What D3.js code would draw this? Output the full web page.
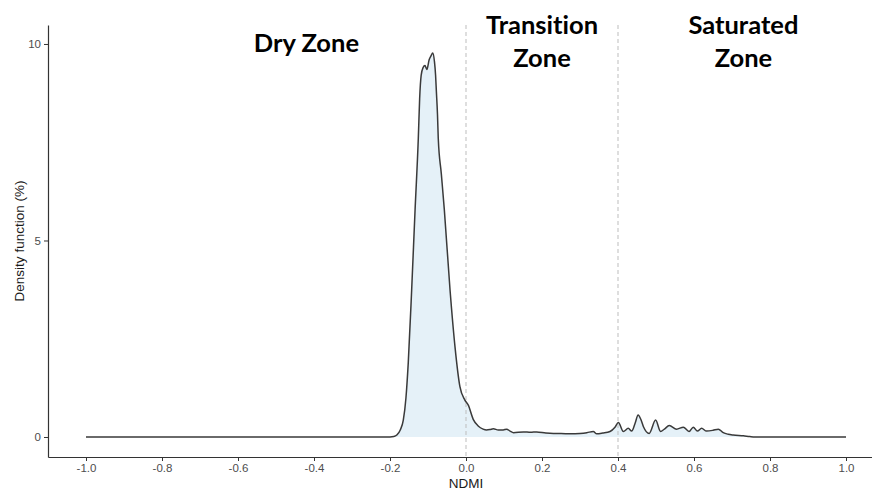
<!DOCTYPE html>
<html>
<head>
<meta charset="utf-8">
<script src="https://cdn.jsdelivr.net/npm/d3@7"></script>
<style>
  body { margin: 0; background: #fff; }
  .tick text { font-family: "Liberation Sans", Arial, sans-serif; font-size: 11.5px; fill: #4d4d4d; }
  .zone { font-family: Lato, sans-serif; font-weight: bold; font-size: 25.5px; fill: #000; font-variant-ligatures: none; }
  .aTitle { font-family: "Liberation Sans", Arial, sans-serif; font-size: 13.5px; fill: #1a1a1a; }
</style>
</head>
<body>
<div id="chart"></div>
<script>
// NDMI values and density (%)
var ndmi = [-1.0, -0.6, -0.2, -0.19, -0.182, -0.173, -0.165, -0.158, -0.152, -0.143, -0.134, -0.1255,
    -0.122, -0.118, -0.113, -0.108, -0.103, -0.097, -0.092, -0.0876, -0.083, -0.08, -0.078, -0.075, -0.073,
    -0.065, -0.057, -0.042, -0.029, -0.016, -0.003, 0.006, 0.019, 0.032, 0.045, 0.054, 0.063, 0.072, 0.085,
    0.098, 0.107, 0.116, 0.125, 0.151, 0.17, 0.186, 0.21, 0.23, 0.25, 0.274, 0.3, 0.318, 0.335, 0.344, 0.36,
    0.379, 0.392, 0.401, 0.414, 0.427, 0.436, 0.445, 0.453, 0.46, 0.467, 0.482, 0.499, 0.512, 0.522, 0.535,
    0.554, 0.572, 0.587, 0.598, 0.609, 0.62, 0.633, 0.65, 0.664, 0.677, 0.69, 0.703, 0.73, 0.747, 0.76, 0.9, 1.0];
var density = [0, 0, 0, 0.01, 0.05, 0.18, 0.43, 1.0, 1.88, 3.74, 5.78, 7.6,
    8.6, 9.2, 9.4, 9.45, 9.35, 9.6, 9.7, 9.77, 9.55, 9.2, 8.8, 8.2, 7.6,
    6.7, 5.78, 3.74, 2.3, 1.28, 0.94, 0.81, 0.45, 0.28, 0.2, 0.18, 0.19, 0.21, 0.18,
    0.18, 0.2, 0.15, 0.11, 0.13, 0.12, 0.13, 0.1, 0.09, 0.09, 0.08, 0.09, 0.11, 0.14, 0.08, 0.1,
    0.14, 0.25, 0.37, 0.14, 0.22, 0.15, 0.35, 0.56, 0.45, 0.26, 0.09, 0.43, 0.14, 0.2, 0.29,
    0.2, 0.25, 0.14, 0.25, 0.15, 0.22, 0.15, 0.17, 0.2, 0.11, 0.07, 0.05, 0.03, 0.01, 0, 0, 0];

var xTicks = [-1.0, -0.8, -0.6, -0.4, -0.2, 0.0, 0.2, 0.4, 0.6, 0.8, 1.0];
var yTicks = [0, 5, 10];
var cutoffs = [0.0, 0.4];
var zoneLabels = [
    {lines: ["Dry Zone"], x: -0.42},
    {lines: ["Transition", "Zone"], x: 0.2},
    {lines: ["Saturated", "Zone"], x: 0.73}
];

var svgWidth = 872;
var svgHeight = 490;

var svg = d3.select('#chart')
    .append('svg')
    .attr('width', svgWidth)
    .attr('height', svgHeight);

var xScale = d3.scaleLinear()
    .domain([-1.1, 1.1])
    .range([48, 884]);

var yScale = d3.scaleLinear()
    .domain([-0.509, 10.483])
    .range([457, 25]);

var points = ndmi.map((v, i) => ({x: v, y: density[i]}));

// density fill + outline
var area = d3.area()
    .x(d => xScale(d.x))
    .y0(yScale(0))
    .y1(d => yScale(d.y))
    .curve(d3.curveMonotoneX);

var line = d3.line()
    .x(d => xScale(d.x))
    .y(d => yScale(d.y))
    .curve(d3.curveMonotoneX);

svg.append('path')
    .datum(points)
    .attr('d', area)
    .attr('fill', '#e5f1f8');

// cutoff lines
svg.selectAll('line.cut')
    .data(cutoffs)
    .enter()
    .append('line')
    .attr('class', 'cut')
    .attr('x1', d => xScale(d))
    .attr('x2', d => xScale(d))
    .attr('y1', yScale.range()[1])
    .attr('y2', yScale.range()[0])
    .attr('stroke', '#bdbdbd')
    .attr('stroke-width', 1)
    .attr('stroke-dasharray', '4,3');

svg.append('path')
    .datum(points)
    .attr('d', line)
    .attr('fill', 'none')
    .attr('stroke', '#3a3a3a')
    .attr('stroke-width', 1.5);

// axes
var bottomAxis = d3.axisBottom(xScale)
    .tickValues(xTicks)
    .tickFormat(d => d.toFixed(1))
    .tickSizeInner(4)
    .tickSizeOuter(0)
    .tickPadding(3);

var leftAxis = d3.axisLeft(yScale)
    .tickValues(yTicks)
    .tickSizeInner(4)
    .tickSizeOuter(0)
    .tickPadding(3);

var gx = svg.append('g')
    .attr('transform', `translate(0, ${yScale.range()[0]})`)
    .call(bottomAxis);

var gy = svg.append('g')
    .attr('transform', `translate(${xScale.range()[0]}, 0)`)
    .call(leftAxis);

[gx, gy].forEach(function(g){
    g.select('.domain').attr('stroke', '#333').attr('stroke-width', 1.2);
    g.selectAll('.tick line').attr('stroke', '#333');
});

svg.append('text')
    .attr('class', 'aTitle')
    .attr('transform', 'rotate(-90)')
    .attr('x', -241)
    .attr('y', 24)
    .attr('text-anchor', 'middle')
    .text('Density function (%)');

svg.append('text')
    .attr('class', 'aTitle')
    .attr('x', xScale(0))
    .attr('y', 488)
    .attr('text-anchor', 'middle')
    .text('NDMI');

// zone labels
zoneLabels.forEach(function(z){
    var t = svg.append('text')
        .attr('class', 'zone')
        .attr('text-anchor', 'middle');
    var y0 = z.lines.length === 1 ? 52 : 34;
    z.lines.forEach(function(s, i){
        t.append('tspan')
            .attr('x', xScale(z.x))
            .attr('y', y0 + i * 33)
            .text(s);
    });
});
</script>
</body>
</html>
